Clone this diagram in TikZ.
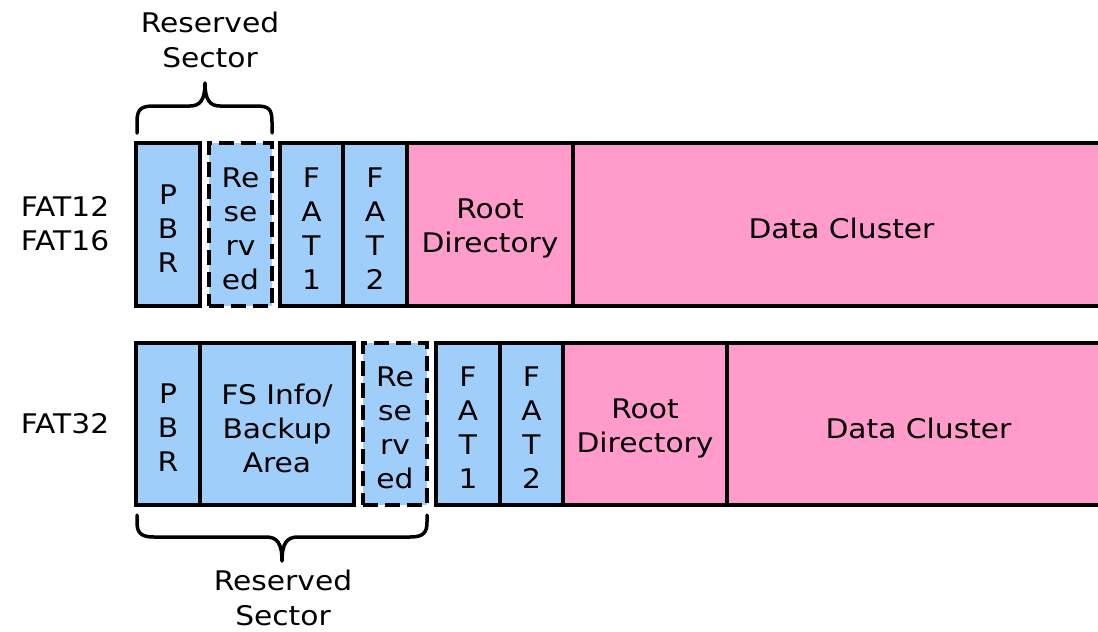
\documentclass[tikz,border=0pt]{standalone}
\usepackage{fontspec}
\newfontfamily\diagfont[FakeStretch=1.1]{DejaVu Sans}
\newcommand\labelfnt{\diagfont\fontsize{27}{34}\selectfont}
\definecolor{sysblue}{RGB}{160,206,250}
\definecolor{datpink}{RGB}{255,156,204}
\begin{document}
\begin{tikzpicture}[x=1pt,y=-1pt,
  blk/.style={draw=black, line width=4pt, inner sep=0pt, minimum height=163pt},
  sysblk/.style={blk, fill=sysblue},
  datblk/.style={blk, fill=datpink},
  resblk/.style={sysblk, dash pattern=on 15pt off 7pt},
  boxtext/.style={font=\labelfnt, align=center, text=black, inner sep=0pt, yshift=-4pt},
  rowlabel/.style={font=\labelfnt, align=center, inner sep=0pt},
  bracelabel/.style={font=\diagfont\fontsize{27}{35}\selectfont, align=center, inner sep=0pt},
  bracepath/.style={draw=black, line width=3.5pt, line join=round, line cap=round}]
\useasboundingbox (0,0) rectangle (1098,632);

% FAT12 / FAT16 layout
\node[rowlabel] (lab16) at (65,224) {FAT12\\FAT16};
\node[sysblk, minimum width=64pt,  label={[boxtext]center:{P\\B\\R}}]           (pbrA)  at (168,224.5)   {};
\node[resblk, minimum width=63pt,  label={[boxtext]center:{Re\\se\\rv\\ed}}]    (resA)  at (240.5,224.5) {};
\node[sysblk, minimum width=63pt,  label={[boxtext]center:{F\\A\\T\\1}}]        (fatoA) at (311.5,224.5) {};
\node[sysblk, minimum width=64pt,  label={[boxtext]center:{F\\A\\T\\2}}]        (fattA) at (375,224.5)   {};
\node[datblk, minimum width=166pt, label={[boxtext]center:{Root\\Directory}}]   (rootA) at (490,224.5)   {};
\node[datblk, minimum width=537pt, label={[boxtext]center:{Data Cluster}}]      (dataA) at (841.5,224.5) {};

% FAT32 layout
\node[rowlabel] (lab32) at (65,424) {FAT32};
\node[sysblk, minimum width=64pt,  minimum height=162pt, label={[boxtext]center:{P\\B\\R}}]             (pbrB)  at (168,424)   {};
\node[sysblk, minimum width=154pt, minimum height=162pt, label={[boxtext]center:{FS Info/\\Backup\\Area}}] (fsiB)  at (277,424)   {};
\node[resblk, minimum width=64pt,  minimum height=162pt, label={[boxtext]center:{Re\\se\\rv\\ed}}]      (resB)  at (395,424)   {};
\node[sysblk, minimum width=64pt,  minimum height=162pt, label={[boxtext]center:{F\\A\\T\\1}}]          (fatoB) at (468,424)   {};
\node[sysblk, minimum width=63pt,  minimum height=162pt, label={[boxtext]center:{F\\A\\T\\2}}]          (fattB) at (531.5,424) {};
\node[datblk, minimum width=164pt, minimum height=162pt, label={[boxtext]center:{Root\\Directory}}]     (rootB) at (645,424)   {};
\node[datblk, minimum width=383pt, minimum height=162pt, label={[boxtext]center:{Data Cluster}}]        (dataB) at (918.5,424) {};

% reserved-sector braces
\path[bracepath] (137,133) -- (137,122)
  .. controls (137,109) and (141,106) .. (154,106) -- (190,106)
  .. controls (200,106) and (205,100) .. (205,83)
  .. controls (205,100) and (210,106) .. (220,106) -- (256,106)
  .. controls (269,106) and (272,109) .. (272,122) -- (272,133);
\node[bracelabel] (rsA) at (210,40) {Reserved\\Sector};

\path[bracepath] (137,515) -- (137,522)
  .. controls (137,533) and (141,537) .. (154,537) -- (266,537)
  .. controls (277,537) and (282,543) .. (282,561)
  .. controls (282,543) and (287,537) .. (298,537) -- (410,537)
  .. controls (423,537) and (427,533) .. (427,522) -- (427,515);
\node[bracelabel] (rsB) at (283,598) {Reserved\\Sector};
\end{tikzpicture}
\end{document}
